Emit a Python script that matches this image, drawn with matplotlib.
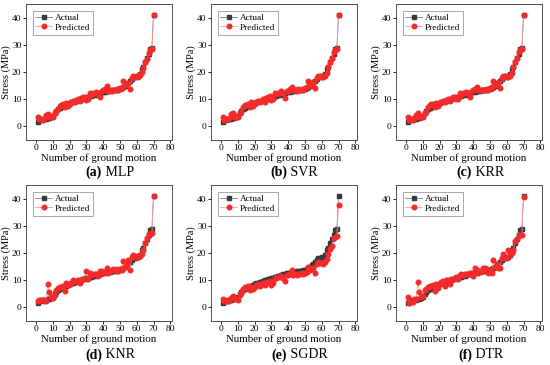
import matplotlib.pyplot as plt
import numpy as np

plt.rcParams['font.family'] = ['Liberation Serif', 'DejaVu Serif']

motion = np.arange(1, 71)

actual = [1.5, 2.3, 2.5, 2.6, 2.7, 2.9, 3.0, 3.1, 3.3, 4.0,
          4.8, 5.5, 6.3, 6.8, 7.3, 7.6, 7.8, 8.0, 8.3, 8.6,
          8.9, 9.1, 9.3, 9.5, 9.7, 9.9, 10.1, 10.3, 10.5, 10.7,
          10.9, 11.1, 11.3, 11.5, 11.7, 11.9, 12.1, 12.3, 12.5, 12.6,
          12.8, 12.9, 13.0, 13.1, 13.2, 13.3, 13.4, 13.5, 13.7, 13.9,
          14.2, 14.6, 15.0, 15.5, 16.0, 16.6, 17.5, 18.0, 18.2, 18.4,
          18.6, 19.3, 21.0, 22.0, 23.5, 25.0, 26.5, 28.3, 28.7, 41.0]

pred_mlp = [3.5, 2.6, 2.8, 2.5, 2.9, 4.2, 4.6, 3.4, 3.8, 3.3,
            5.0, 5.6, 6.5, 7.5, 7.8, 8.3, 7.2, 8.6, 7.6, 8.2,
            9.0, 9.3, 8.8, 9.6, 9.9, 9.2, 10.4, 10.7, 10.9, 9.6,
            10.2, 12.2, 11.6, 12.4, 12.2, 12.8, 12.0, 10.8, 12.9, 13.2,
            13.6, 14.8, 13.1, 13.4, 12.9, 13.5, 13.2, 13.8, 13.4, 14.0,
            14.3, 16.8, 15.2, 15.6, 16.1, 13.8, 17.8, 18.6, 18.2, 18.5,
            18.2, 18.9, 20.0, 21.6, 23.8, 24.6, 27.0, 28.2, 28.6, 41.0]

pred_svr = [3.4, 2.5, 2.7, 2.6, 3.0, 4.4, 4.8, 3.5, 3.6, 3.4,
            5.0, 5.4, 7.2, 7.9, 8.0, 8.4, 7.0, 8.8, 7.5, 8.4,
            9.0, 9.4, 8.9, 9.5, 10.0, 9.1, 10.3, 10.8, 11.0, 9.8,
            10.1, 12.1, 11.8, 12.3, 12.3, 12.9, 12.2, 10.6, 13.0, 13.1,
            13.7, 14.6, 13.2, 13.5, 13.1, 13.6, 13.3, 13.7, 13.5, 14.1,
            14.5, 16.8, 15.3, 15.7, 16.2, 14.0, 17.9, 18.7, 18.4, 18.3,
            18.0, 18.6, 19.6, 21.8, 23.6, 25.0, 27.4, 28.0, 28.6, 41.0]

pred_krr = [3.5, 2.4, 2.7, 2.5, 3.0, 4.3, 4.9, 3.4, 3.5, 3.5,
            5.1, 5.3, 7.1, 7.8, 8.1, 8.3, 7.1, 8.7, 7.6, 8.5,
            9.1, 9.3, 8.8, 9.6, 10.1, 9.2, 10.2, 10.9, 10.9, 9.9,
            10.2, 12.2, 11.7, 12.4, 12.2, 12.8, 12.3, 10.7, 13.0, 13.2,
            13.6, 14.5, 13.3, 13.4, 13.2, 13.5, 13.4, 13.8, 13.4, 14.2,
            14.4, 16.7, 15.2, 15.8, 16.1, 14.1, 17.8, 18.6, 18.5, 18.2,
            18.1, 18.7, 19.7, 21.7, 23.5, 25.1, 27.5, 28.1, 28.5, 41.0]

pred_knr = [2.5, 2.6, 2.7, 2.6, 2.4, 2.3, 8.6, 5.8, 3.7, 3.3,
            4.5, 6.5, 7.2, 7.5, 7.6, 8.0, 6.2, 8.8, 8.2, 8.6,
            9.0, 10.2, 9.6, 9.8, 10.0, 9.0, 10.2, 10.5, 10.8, 13.2,
            10.6, 12.5, 12.0, 12.2, 12.1, 12.3, 11.5, 13.2, 13.5, 12.8,
            13.0, 14.5, 12.6, 13.4, 13.8, 14.0, 13.6, 14.3, 13.5, 14.0,
            13.6, 17.0, 15.0, 15.8, 17.6, 13.8, 18.5, 19.2, 18.6, 18.8,
            18.4, 18.8, 19.5, 21.2, 23.8, 25.6, 27.0, 27.0, 27.2, 41.0]

pred_sgdr = [3.0, 2.3, 2.2, 2.4, 2.5, 3.6, 4.2, 3.5, 3.0, 2.8,
             4.5, 5.2, 6.8, 7.4, 7.0, 7.8, 6.4, 7.6, 6.9, 7.5,
             8.2, 8.6, 7.8, 8.7, 9.0, 8.2, 9.2, 9.4, 9.6, 8.4,
             9.0, 10.8, 10.9, 11.2, 11.0, 11.6, 10.9, 9.8, 11.8, 12.0,
             12.2, 13.6, 12.0, 12.3, 11.8, 12.4, 12.1, 12.6, 12.3, 12.8,
             13.0, 15.0, 13.6, 14.0, 14.5, 12.5, 16.0, 16.8, 16.4, 16.2,
             16.0, 16.6, 17.8, 19.5, 21.5, 22.5, 25.5, 26.0, 26.3, 37.5]

pred_dtr = [4.0, 1.8, 2.0, 1.9, 3.0, 3.1, 9.5, 5.8, 4.0, 4.2,
            6.5, 6.8, 7.4, 7.8, 8.0, 8.4, 6.0, 8.6, 7.2, 8.6,
            9.2, 9.8, 8.0, 9.9, 10.2, 8.6, 10.4, 10.6, 10.9, 11.2,
            10.4, 11.8, 12.1, 12.0, 12.3, 12.4, 12.2, 12.6, 12.8, 11.6,
            14.5, 13.6, 12.6, 13.2, 13.4, 14.5, 14.6, 14.2, 12.8, 13.5,
            12.8, 17.6, 14.8, 16.0, 14.5, 14.5, 18.2, 19.6, 18.0, 18.0,
            21.0, 19.5, 20.0, 21.0, 24.5, 25.0, 26.5, 26.5, 26.6, 40.5]

letters = ['a', 'b', 'c', 'd', 'e', 'f']
models = ['MLP', 'SVR', 'KRR', 'KNR', 'SGDR', 'DTR']
preds = [pred_mlp, pred_svr, pred_krr, pred_knr, pred_sgdr, pred_dtr]

W, H = 550, 365
fig = plt.figure(figsize=(5.5, 3.65), dpi=100)

lefts = [26, 211, 396]
tops = [4, 185]
aw, ah = 146, 136
cap_y = [172, 355]

for i in range(6):
    r, c = divmod(i, 3)
    ax = fig.add_axes([lefts[c] / W, 1 - (tops[r] + ah) / H, aw / W, ah / H])
    ax.plot(motion, actual, color='#808080', lw=0.6, marker='s', ms=2.8,
            mfc='#3a3a3a', mec='#3a3a3a', label='Actual')
    ax.plot(motion, preds[i], color='#ff9a9a', lw=0.6, marker='o', ms=3.3,
            mfc='#f52a2a', mec='#f52a2a', label='Predicted')
    ax.set_xlim(-6, 81)
    ax.set_ylim(-5, 45)
    ax.set_xticks(range(0, 81, 10))
    ax.set_yticks(range(0, 41, 10))
    ax.tick_params(labelsize=6.8, length=2.2, width=0.6, pad=1)
    for s in ax.spines.values():
        s.set_linewidth(0.7)
        s.set_color('#505050')
    ax.set_xlabel('Number of ground motion', fontsize=7.8, labelpad=0.5)
    ax.set_ylabel('Stress (MPa)', fontsize=7.5, labelpad=0.5)
    leg = ax.legend(loc='upper left', fontsize=6.7, frameon=True, fancybox=False,
                    edgecolor='#808080', handlelength=1.8, borderpad=0.3,
                    labelspacing=0.15, handletextpad=0.3, borderaxespad=0.7)
    leg.get_frame().set_linewidth(0.6)
    cx = (lefts[c] + aw / 2 + 3) / W
    fig.text(cx, 1 - cap_y[r] / H, f'({letters[i]})', fontsize=10,
             fontweight='bold', ha='right', va='center')
    fig.text(cx, 1 - cap_y[r] / H, f' {models[i]}', fontsize=10,
             ha='left', va='center')

fig.savefig('out.png', dpi=100)
